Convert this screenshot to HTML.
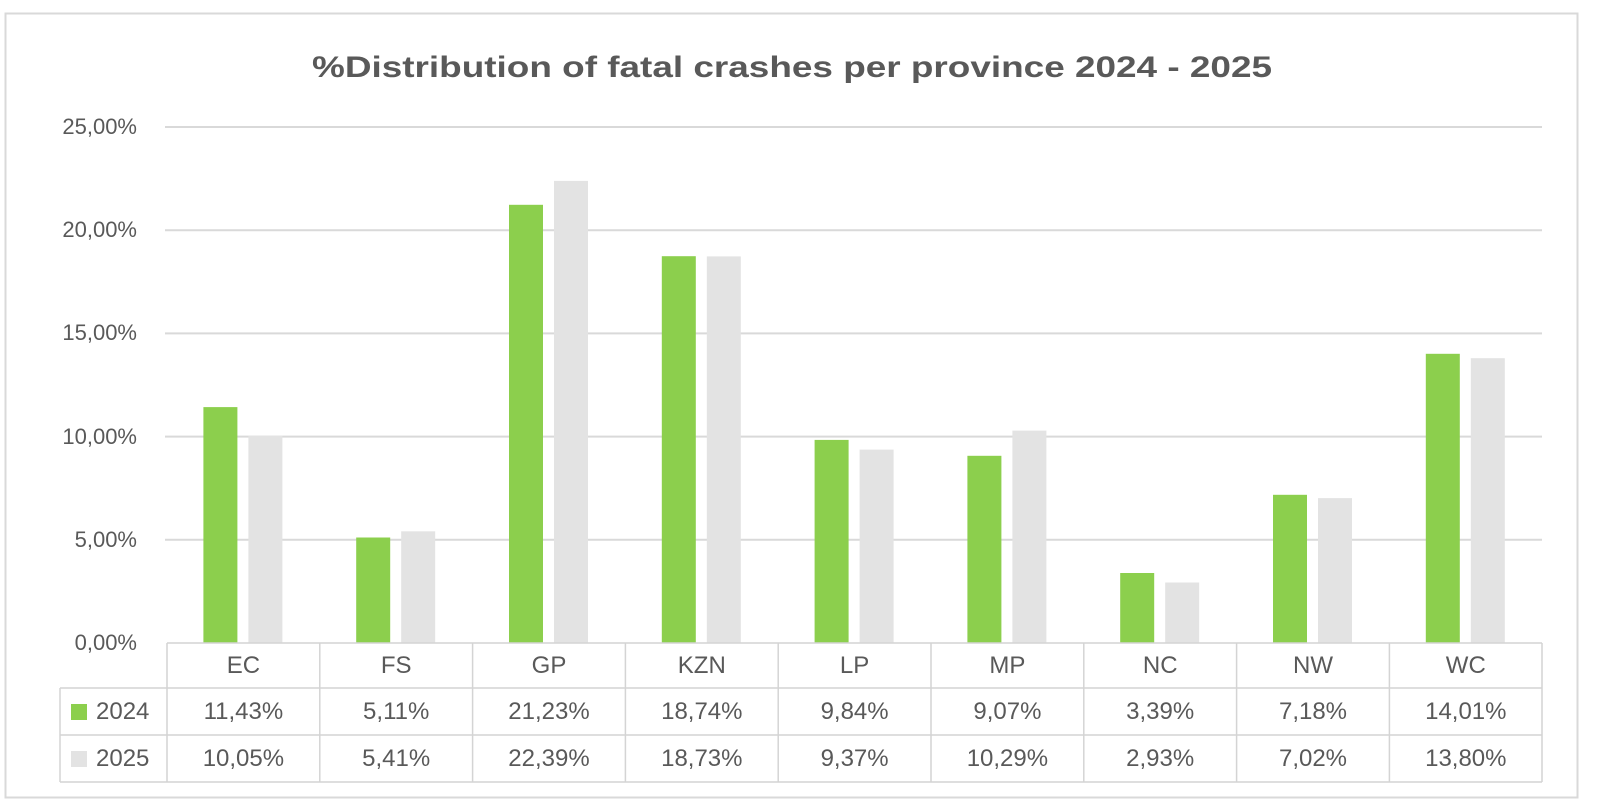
<!DOCTYPE html>
<html><head><meta charset="utf-8"><style>
html,body{margin:0;padding:0;background:#fff;}
svg{display:block;font-family:"Liberation Sans",sans-serif;}
</style></head><body>
<svg width="1600" height="804" viewBox="0 0 1600 804">
<rect x="0" y="0" width="1600" height="804" fill="#fff"/>
<rect x="5.5" y="13.5" width="1572" height="784" fill="#fff" stroke="#d9d9d9" stroke-width="2"/>
<text x="312" y="77" font-size="30" font-weight="bold" fill="#595959" textLength="960" lengthAdjust="spacingAndGlyphs">%Distribution of fatal crashes per province 2024 - 2025</text>
<g stroke="#d9d9d9" stroke-width="2">
<line x1="165" y1="127" x2="1542" y2="127"/>
<line x1="165" y1="230.2" x2="1542" y2="230.2"/>
<line x1="165" y1="333.4" x2="1542" y2="333.4"/>
<line x1="165" y1="436.6" x2="1542" y2="436.6"/>
<line x1="165" y1="539.8" x2="1542" y2="539.8"/>
</g>
<g font-size="22" fill="#595959" text-anchor="end">
<text x="137" y="134">25,00%</text>
<text x="137" y="237">20,00%</text>
<text x="137" y="340">15,00%</text>
<text x="137" y="444">10,00%</text>
<text x="137" y="547">5,00%</text>
<text x="137" y="650">0,00%</text>
</g>
<g fill="#8ccf4d">
<rect x="203.4" y="407.1" width="34" height="235.9"/>
<rect x="356.2" y="537.5" width="34" height="105.5"/>
<rect x="509" y="204.8" width="34" height="438.2"/>
<rect x="661.8" y="256.2" width="34" height="386.8"/>
<rect x="814.6" y="439.9" width="34" height="203.1"/>
<rect x="967.4" y="455.8" width="34" height="187.2"/>
<rect x="1120.2" y="573" width="34" height="70"/>
<rect x="1273" y="494.8" width="34" height="148.2"/>
<rect x="1425.8" y="353.8" width="34" height="289.2"/>
</g>
<g fill="#e3e3e3">
<rect x="248.4" y="435.6" width="34" height="207.4"/>
<rect x="401.2" y="531.3" width="34" height="111.7"/>
<rect x="554" y="180.9" width="34" height="462.1"/>
<rect x="706.8" y="256.4" width="34" height="386.6"/>
<rect x="859.6" y="449.6" width="34" height="193.4"/>
<rect x="1012.4" y="430.6" width="34" height="212.4"/>
<rect x="1165.2" y="582.5" width="34" height="60.5"/>
<rect x="1318" y="498.1" width="34" height="144.9"/>
<rect x="1470.8" y="358.2" width="34" height="284.8"/>
</g>
<g stroke="#d4d4d4" stroke-width="1.5" fill="none">
<line x1="167" y1="643" x2="1542" y2="643"/>
<line x1="60" y1="688" x2="1542" y2="688"/>
<line x1="60" y1="735" x2="1542" y2="735"/>
<line x1="60" y1="782" x2="1542" y2="782"/>
<line x1="60" y1="688" x2="60" y2="782"/>
<line x1="167" y1="643" x2="167" y2="782"/>
<line x1="319.8" y1="643" x2="319.8" y2="782"/>
<line x1="472.6" y1="643" x2="472.6" y2="782"/>
<line x1="625.4" y1="643" x2="625.4" y2="782"/>
<line x1="778.2" y1="643" x2="778.2" y2="782"/>
<line x1="931" y1="643" x2="931" y2="782"/>
<line x1="1083.8" y1="643" x2="1083.8" y2="782"/>
<line x1="1236.6" y1="643" x2="1236.6" y2="782"/>
<line x1="1389.4" y1="643" x2="1389.4" y2="782"/>
<line x1="1542" y1="643" x2="1542" y2="782"/>
</g>
<rect x="71" y="704" width="16" height="16" fill="#8ccf4d"/>
<rect x="71" y="751" width="16" height="16" fill="#e3e3e3"/>
<g font-size="24" fill="#595959">
<text x="96" y="719">2024</text>
<text x="96" y="766">2025</text>
</g>
<g font-size="24" fill="#595959" text-anchor="middle">
<text x="243.4" y="673">EC</text><text x="396.2" y="673">FS</text><text x="549" y="673">GP</text><text x="701.8" y="673">KZN</text><text x="854.6" y="673">LP</text><text x="1007.4" y="673">MP</text><text x="1160.2" y="673">NC</text><text x="1313" y="673">NW</text><text x="1465.8" y="673">WC</text>
<text x="243.4" y="719">11,43%</text><text x="396.2" y="719">5,11%</text><text x="549" y="719">21,23%</text><text x="701.8" y="719">18,74%</text><text x="854.6" y="719">9,84%</text><text x="1007.4" y="719">9,07%</text><text x="1160.2" y="719">3,39%</text><text x="1313" y="719">7,18%</text><text x="1465.8" y="719">14,01%</text>
<text x="243.4" y="766">10,05%</text><text x="396.2" y="766">5,41%</text><text x="549" y="766">22,39%</text><text x="701.8" y="766">18,73%</text><text x="854.6" y="766">9,37%</text><text x="1007.4" y="766">10,29%</text><text x="1160.2" y="766">2,93%</text><text x="1313" y="766">7,02%</text><text x="1465.8" y="766">13,80%</text>
</g>
</svg>
</body></html>
